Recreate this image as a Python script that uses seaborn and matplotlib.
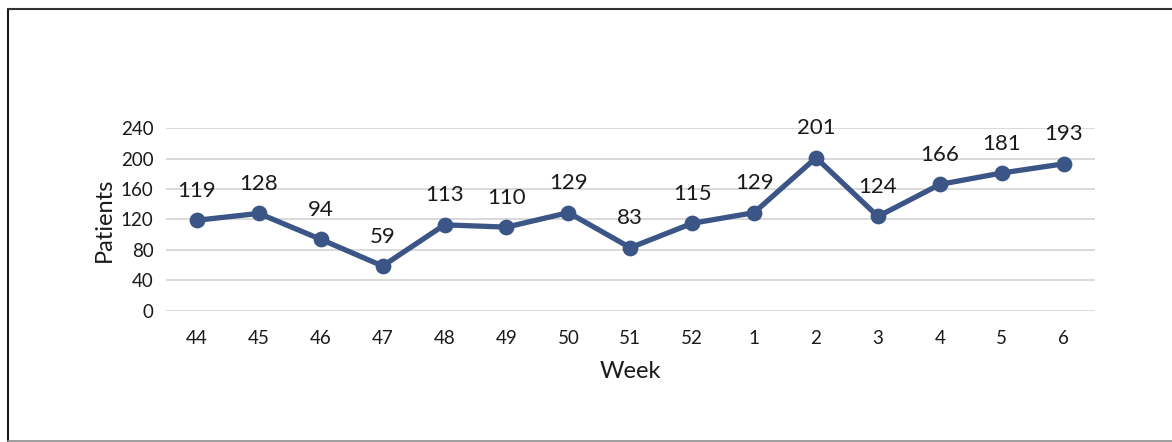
import matplotlib
matplotlib.use("Agg")
import matplotlib.pyplot as plt
from matplotlib.patches import Rectangle
import pandas as pd
import seaborn as sns

weeks = ["44", "45", "46", "47", "48", "49", "50", "51", "52", "1", "2", "3", "4", "5", "6"]
patients = [119, 128, 94, 59, 113, 110, 129, 83, 115, 129, 201, 124, 166, 181, 193]
y_ticks = [0, 40, 80, 120, 160, 200, 240]

LINE_COLOR = "#3b5586"

sns.set_theme(style="white")
plt.rcParams["font.family"] = ["Lato", "DejaVu Sans"]

df = pd.DataFrame({"Week": weeks, "Patients": patients})

fig = plt.figure(figsize=(11.72, 4.42), dpi=100)
ax = fig.add_axes([0.1416, 0.2964, 0.7924, 0.414])

sns.pointplot(
    data=df, x="Week", y="Patients", order=weeks,
    color=LINE_COLOR, linewidth=3.8, markersize=8.5, ax=ax,
)

for i, v in enumerate(patients):
    ax.annotate(str(v), (i, v), xytext=(0, 14), textcoords="offset points",
                ha="center", va="bottom", fontsize=16, color="#1a1a1a")

ax.set_ylim(0, 240)
ax.set_xlim(-0.5, len(weeks) - 0.5)
ax.set_yticks(y_ticks)
ax.yaxis.grid(True, color="#d9d9d9", linewidth=1.4)
ax.set_axisbelow(True)
for s in ax.spines.values():
    s.set_visible(False)
ax.tick_params(axis="both", length=0, labelsize=13.5, colors="#1a1a1a")
ax.tick_params(axis="x", pad=14)
ax.tick_params(axis="y", pad=9)
ax.set_xlabel("Week", fontsize=17, color="#1a1a1a", labelpad=10)
ax.set_ylabel("Patients", fontsize=17, color="#1a1a1a", labelpad=4)

# frame: open on the right, like the cropped reference
fig.add_artist(plt.Line2D([8 / 1172, 8 / 1172], [1 - 441 / 442, 1 - 9 / 442],
                          transform=fig.transFigure, color="#1a1a1a", linewidth=1.5))
fig.add_artist(plt.Line2D([8 / 1172, 1.0], [1 - 9 / 442, 1 - 9 / 442],
                          transform=fig.transFigure, color="#333333", linewidth=1.5))
fig.add_artist(plt.Line2D([8 / 1172, 1.0], [1 - 441 / 442, 1 - 441 / 442],
                          transform=fig.transFigure, color="#8c8c8c", linewidth=1.2))

fig.savefig("out.png", dpi=100)
